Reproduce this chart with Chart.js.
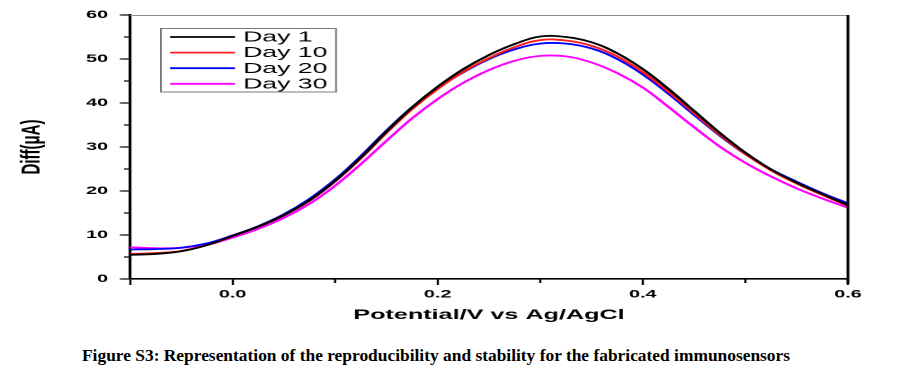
<!DOCTYPE html>
<html>
<head>
<meta charset="utf-8">
<script src="https://cdn.jsdelivr.net/npm/chart.js@4.4.1/dist/chart.umd.min.js"></script>
<style>
  html, body { margin: 0; padding: 0; background: #fff; }
  body { width: 899px; height: 372px; position: relative; overflow: hidden; }
  /* the source figure is stretched sideways, so the canvas is too */
  #plot { position: absolute; left: 0; top: 0; transform: scaleX(1.798); transform-origin: 0 0; }
  .caption { position: absolute; left: 82px; top: 346px; font: bold 17.4px "Liberation Serif", "Times New Roman", serif; line-height: 18px; white-space: nowrap; color: #000; }
</style>
</head>
<body>
<canvas id="plot" width="500" height="330"></canvas>
<div class="caption">Figure S3: Representation of the reproducibility and stability for the fabricated immunosensors</div>

<script>
/* ── DATA ── */
const potential = [-0.1, -0.075, -0.05, -0.025, 0.0, 0.025, 0.05, 0.075, 0.1, 0.125, 0.15, 0.175, 0.2, 0.225, 0.25,
                   0.275, 0.3, 0.325, 0.35, 0.375, 0.4, 0.425, 0.45, 0.475, 0.5, 0.525, 0.55, 0.575, 0.6];

const day1  = [5.5, 5.7, 6.3, 7.7, 9.8, 11.9, 14.5, 17.9, 22.3, 27.6, 33.5, 39.0, 43.7, 47.7, 50.9,
               53.4, 55.1, 55.0, 53.8, 51.3, 47.7, 43.2, 38.2, 33.2, 28.7, 24.9, 21.9, 19.3, 16.8];
const day10 = [5.7, 5.9, 6.4, 7.7, 9.8, 11.9, 14.5, 17.8, 22.2, 27.4, 33.2, 38.6, 43.2, 47.1, 50.2,
               52.7, 54.3, 54.2, 53.0, 50.6, 47.0, 42.6, 37.7, 32.8, 28.4, 24.7, 21.7, 19.1, 16.6];
const day20 = [6.7, 6.8, 7.1, 8.1, 9.9, 12.0, 14.7, 18.2, 22.6, 27.9, 33.7, 39.0, 43.4, 47.0, 50.0,
               52.2, 53.5, 53.5, 52.4, 50.0, 46.5, 42.1, 37.3, 32.6, 28.4, 24.9, 22.1, 19.5, 17.2];
const day30 = [7.2, 7.0, 7.1, 7.8, 9.4, 11.4, 13.9, 17.1, 21.2, 26.1, 31.4, 36.5, 40.9, 44.6, 47.5,
               49.6, 50.7, 50.6, 49.2, 46.8, 43.5, 39.1, 34.5, 30.1, 26.4, 23.3, 20.6, 18.3, 16.2];

const seriesNames  = ["Day 1", "Day 10", "Day 20", "Day 30"];
const seriesValues = [day1, day10, day20, day30];
const seriesColors = ["#000000", "#ff1a1a", "#0000ff", "#ff00ff"];

const xTicks = [-0.1, 0.0, 0.2, 0.4, 0.6];
const xMinor = [0.1, 0.3, 0.5];
const yTicks = [0, 10, 20, 30, 40, 50, 60];
const yMinor = [5, 15, 25, 35, 45, 55];

/* ── EXTRAS: frame, minor ticks, boxed legend ── */
const extras = {
    id: "extras",
    afterDraw(chart) {
        const { ctx, chartArea: a, scales: { x, y } } = chart;
        ctx.save();

        ctx.strokeStyle = "#8c8c8c"; ctx.lineWidth = 1;
        ctx.beginPath(); ctx.moveTo(a.left, a.top + 0.5); ctx.lineTo(a.right, a.top + 0.5); ctx.stroke();

        ctx.strokeStyle = "#000"; ctx.lineWidth = 1.6;
        ctx.beginPath(); ctx.moveTo(a.right, a.top); ctx.lineTo(a.right, a.bottom + 5); ctx.stroke();

        ctx.lineWidth = 1.2;
        ctx.beginPath();
        yMinor.forEach(v => { const py = y.getPixelForValue(v); ctx.moveTo(a.left - 3.3, py); ctx.lineTo(a.left, py); });
        xMinor.forEach(v => { const px = x.getPixelForValue(v); ctx.moveTo(px, a.bottom); ctx.lineTo(px, a.bottom + 4); });
        ctx.stroke();

        // legend box
        const lx = a.left + 17.2, ly = a.top + 13;
        ctx.strokeStyle = "#7a7a7a"; ctx.lineWidth = 1;
        ctx.strokeRect(lx, ly + 0.5, 97.4, 63.5);
        ctx.font = "14.8px 'Liberation Sans', Arial, sans-serif";
        ctx.textBaseline = "middle";
        ctx.fillStyle = "#000";
        chart.data.datasets.forEach((ds, i) => {
            const ry = ly + 9 + i * 15.6;
            ctx.strokeStyle = ds.borderColor; ctx.lineWidth = 1.8;
            ctx.beginPath(); ctx.moveTo(lx + 5.1, ry); ctx.lineTo(lx + 41.2, ry); ctx.stroke();
            ctx.fillText(ds.label, lx + 45.7, ry + 0.5);
        });
        ctx.restore();
    }
};

/* ── CHART ── */
const tickFont = { family: "'Liberation Sans', Arial, sans-serif", size: 11, weight: "bold" };
const titleFont = { family: "'Liberation Sans', Arial, sans-serif", size: 14, weight: "bold" };

new Chart(document.getElementById("plot"), {
    type: "line",
    data: {
        datasets: seriesNames.map((name, i) => ({
            label: name,
            data: potential.map((p, j) => ({ x: p, y: seriesValues[i][j] })),
            borderColor: seriesColors[i],
            borderWidth: 1.8,
            pointRadius: 0,
            tension: 0.4,
            fill: false
        }))
    },
    options: {
        responsive: false,
        animation: false,
        devicePixelRatio: 2,
        layout: { padding: { top: 15, right: 28.4, bottom: 0, left: 0 } },
        plugins: { legend: { display: false }, tooltip: { enabled: false } },
        scales: {
            x: {
                type: "linear", min: -0.1, max: 0.6,
                afterBuildTicks: s => { s.ticks = xTicks.map(value => ({ value })); },
                afterFit: s => { s.height = 51; },
                grid: { drawOnChartArea: false, tickLength: 6, tickColor: "#000", tickWidth: 1.2 },
                border: { color: "#000", width: 1.6 },
                ticks: {
                    color: "#000", font: tickFont, padding: 3, maxRotation: 0,
                    callback: v => v < -0.05 ? "" : Math.abs(v).toFixed(1)
                },
                title: { display: true, text: "Potential/V vs Ag/AgCl", color: "#000", font: titleFont, padding: { top: 0, bottom: 6.6 } }
            },
            y: {
                min: 0, max: 60,
                afterBuildTicks: s => { s.ticks = yTicks.map(value => ({ value })); },
                afterFit: s => { s.width = 72.3; },
                grid: { drawOnChartArea: false, tickLength: 5.6, tickColor: "#000", tickWidth: 1.2 },
                border: { color: "#000", width: 1.6 },
                ticks: { color: "#000", font: tickFont, padding: 6.6 },
                title: { display: true, text: "Diff(μA)", color: "#000", font: { family: titleFont.family, size: 15, weight: "bold" }, padding: { top: 9, bottom: 0 } }
            }
        }
    },
    plugins: [extras]
});
</script>
</body>
</html>
